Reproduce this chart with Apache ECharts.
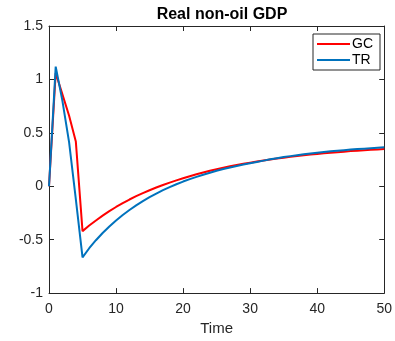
<!DOCTYPE html>
<html>
<head>
<meta charset="utf-8">
<script src="https://cdn.jsdelivr.net/npm/echarts@6/dist/echarts.min.js"></script>
<style>
  html, body { margin: 0; padding: 0; background: #fff; }
  #chart { width: 395px; height: 341px; }
</style>
</head>
<body>
<div id="chart"></div>
<script>
// Impulse responses of real non-oil GDP under two fiscal rules
const periods = Array.from({ length: 51 }, (_, i) => i);

const gcValues = [
  0, 1.06, 0.86, 0.66, 0.42, -0.42, -0.368, -0.320, -0.275, -0.233,
  -0.194, -0.158, -0.124, -0.093, -0.064, -0.037, -0.012, 0.012, 0.034, 0.055,
  0.075, 0.094, 0.112, 0.129, 0.145, 0.160, 0.174, 0.187, 0.199, 0.210,
  0.221, 0.231, 0.241, 0.250, 0.259, 0.267, 0.275, 0.283, 0.290, 0.297,
  0.303, 0.309, 0.314, 0.319, 0.324, 0.329, 0.333, 0.337, 0.341, 0.345,
  0.349
];

const trValues = [
  0, 1.12, 0.80, 0.41, -0.12, -0.665, -0.580, -0.505, -0.437, -0.376,
  -0.320, -0.269, -0.222, -0.179, -0.139, -0.102, -0.068, -0.037, -0.008, 0.019,
  0.044, 0.067, 0.088, 0.108, 0.127, 0.145, 0.161, 0.176, 0.190, 0.203,
  0.216, 0.228, 0.240, 0.252, 0.263, 0.273, 0.282, 0.291, 0.299, 0.307,
  0.314, 0.321, 0.327, 0.333, 0.338, 0.343, 0.348, 0.352, 0.356, 0.360,
  0.364
];

const seriesNames = ['GC', 'TR'];
const seriesColors = ['#FF0000', '#0072BD'];
const xTicks = { min: 0, max: 50, interval: 10 };
const yTicks = { min: -1, max: 1.5, interval: 0.5 };

const axisColor = '#262626';
const font = 'Liberation Sans, Arial, Helvetica, sans-serif';

function pairs(values) {
  return periods.map((t, i) => [t, values[i]]);
}

const chart = echarts.init(document.getElementById('chart'), null, { renderer: 'canvas' });

const baseX = {
  type: 'value',
  min: xTicks.min, max: xTicks.max, interval: xTicks.interval,
  axisLine: { show: true, onZero: false, lineStyle: { color: axisColor, width: 1 } },
  axisTick: { show: true, inside: true, length: 5, lineStyle: { color: axisColor } },
  splitLine: { show: false }
};
const baseY = {
  type: 'value',
  min: yTicks.min, max: yTicks.max, interval: yTicks.interval,
  axisLine: { show: true, onZero: false, lineStyle: { color: axisColor, width: 1 } },
  axisTick: { show: true, inside: true, length: 5, lineStyle: { color: axisColor } },
  splitLine: { show: false }
};

chart.setOption({
  animation: false,
  backgroundColor: '#fff',
  title: {
    text: 'Real non-oil GDP',
    left: 217, top: 2, textAlign: 'center',
    textStyle: { fontFamily: font, fontSize: 16, fontWeight: 'bold', color: '#000' }
  },
  grid: { left: 49, right: 9, top: 26, bottom: 46 },
  legend: {
    data: seriesNames,
    orient: 'vertical',
    left: 313, top: 34,
    padding: [3, 7, 3, 4],
    itemGap: 2,
    itemWidth: 33, itemHeight: 2,
    icon: 'rect',
    borderColor: axisColor, borderWidth: 1,
    backgroundColor: '#fff',
    textStyle: { fontFamily: font, fontSize: 14, color: '#000', padding: [0, 0, 0, -3] }
  },
  xAxis: [
    Object.assign({}, baseX, {
      position: 'bottom',
      name: 'Time', nameLocation: 'middle', nameGap: 27,
      nameTextStyle: { fontFamily: font, fontSize: 15, color: axisColor },
      axisLabel: { fontFamily: font, fontSize: 14, color: axisColor, margin: 9 }
    }),
    Object.assign({}, baseX, { position: 'top', axisLabel: { show: false } })
  ],
  yAxis: [
    Object.assign({}, baseY, {
      position: 'left',
      axisLabel: { fontFamily: font, fontSize: 14, color: axisColor, margin: 6 }
    }),
    Object.assign({}, baseY, { position: 'right', axisLabel: { show: false } })
  ],
  series: [gcValues, trValues].map((vals, i) => ({
    name: seriesNames[i],
    type: 'line',
    data: pairs(vals),
    xAxisIndex: 0, yAxisIndex: 0,
    symbol: 'none',
    lineStyle: { color: seriesColors[i], width: 2 },
    itemStyle: { color: seriesColors[i] }
  }))
});
</script>
</body>
</html>
